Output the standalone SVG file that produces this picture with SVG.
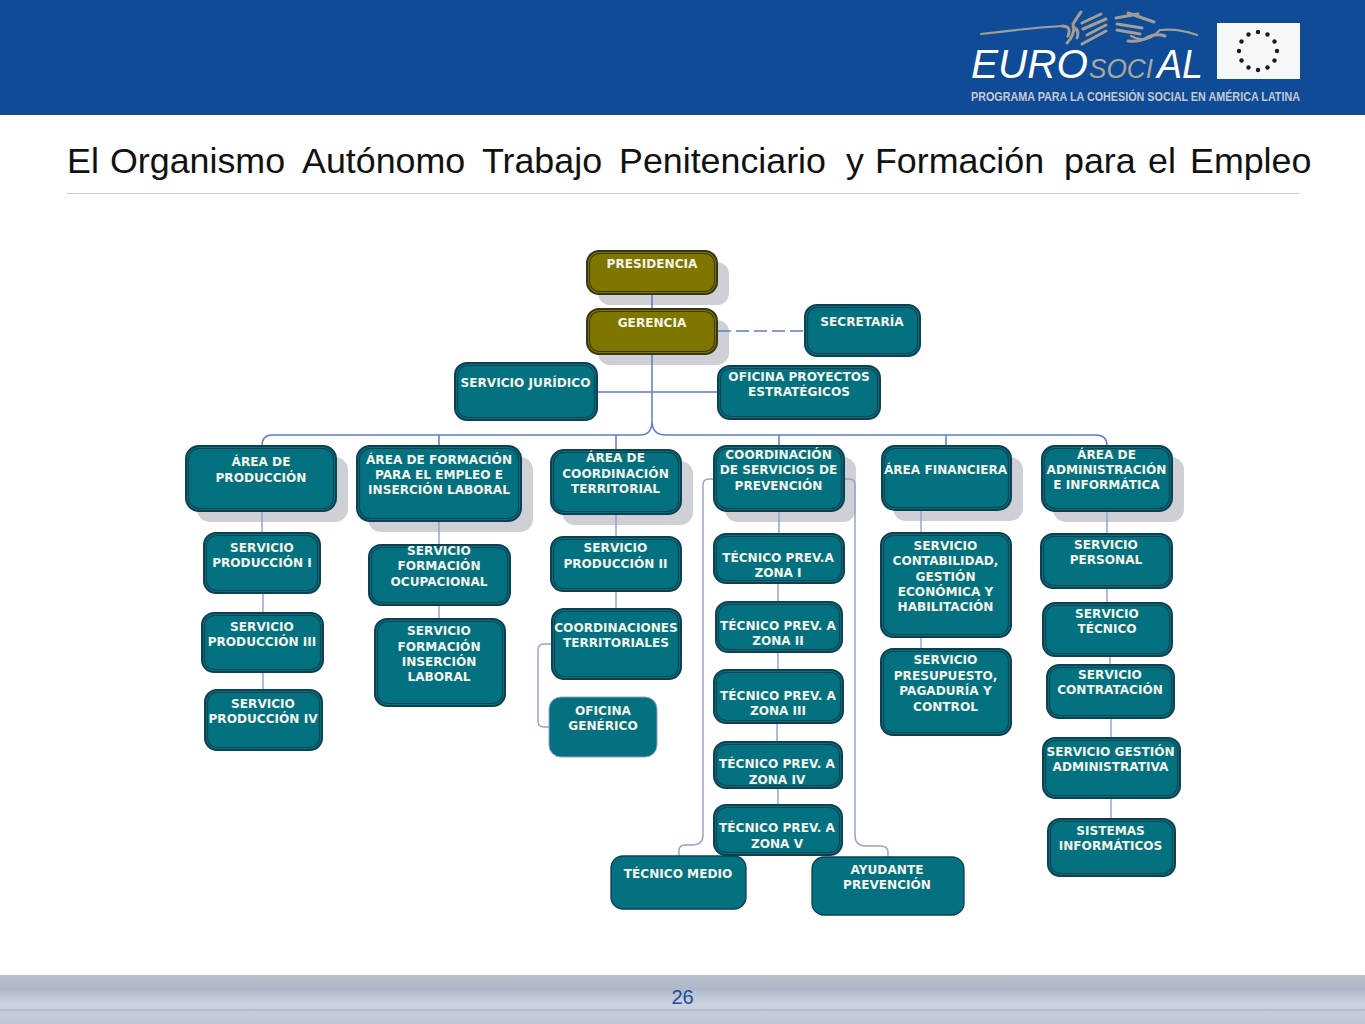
<svg xmlns="http://www.w3.org/2000/svg" width="1365" height="1024" viewBox="0 0 1365 1024">
<defs>
<linearGradient id="bar" x1="0" y1="0" x2="0" y2="1">
<stop offset="0" stop-color="#b9c2cd"/><stop offset="0.12" stop-color="#b3bccb"/><stop offset="0.3" stop-color="#aeb7c7"/><stop offset="0.45" stop-color="#c0c8d6"/><stop offset="0.62" stop-color="#cdd3df"/><stop offset="0.69" stop-color="#c8cedb"/><stop offset="0.7" stop-color="#b4bbc9"/><stop offset="0.73" stop-color="#b9c0cd"/><stop offset="0.75" stop-color="#c6ccd9"/><stop offset="1" stop-color="#bfc5d4"/>
</linearGradient>
</defs>
<style>
.n{font-family:"DejaVu Sans",Verdana,sans-serif;font-weight:700;font-size:12.1px;fill:#f4f4ea;text-anchor:middle}
.b{fill:#03717f;stroke:#0d4050;stroke-width:2}
.i{fill:none;stroke:#0d4050;stroke-width:1.1}
.o{fill:#7f7600;stroke:#38350f;stroke-width:2}
.oi{fill:none;stroke:#38350f;stroke-width:1.1}
.s{fill:#cfcfd6}
.c{fill:none;stroke:#5f7cc4;stroke-width:1.5}
.l{fill:none;stroke:#8fa0cf;stroke-width:1.4}
.g{fill:none;stroke:#a09e96;stroke-width:3;stroke-linecap:round}
</style>
<rect width="1365" height="1024" fill="#fff"/>
<rect width="1365" height="115" fill="#0f4b96"/>
<g id="logo">
<path class="g" style="stroke-width:2.2" d="M981 34Q1030 28 1062 26M1131 36Q1146 45 1160 30Q1178 28 1197 35"/>
<path class="g" d="M1062 26Q1072 26 1068 36M1067 43Q1076 34 1073 24Q1078 16 1081 12M1073 27Q1080 30 1077 38M1082 23L1101 14M1083 29L1106 19M1087 35L1106 25M1082 44L1106 31M1116 18L1138 14M1128 13L1154 22M1117 24L1142 28M1117 30L1140 34M1128 41Q1141 42 1148 37Q1156 33 1165 36"/>
<text x="971" y="78" font-family="Liberation Sans,sans-serif" font-style="italic" font-size="41" fill="#fff" textLength="117" lengthAdjust="spacingAndGlyphs">EURO</text>
<text x="1089" y="78" font-family="Liberation Sans,sans-serif" font-style="italic" font-size="27" fill="#aaa79c" textLength="64" lengthAdjust="spacingAndGlyphs">SOCI</text>
<text x="1157" y="78" font-family="Liberation Sans,sans-serif" font-style="italic" font-size="41" fill="#fff" textLength="46" lengthAdjust="spacingAndGlyphs">AL</text>
<text x="971" y="101" font-family="Liberation Sans,sans-serif" font-weight="700" font-size="12.5" fill="#c4c9d4" textLength="329" lengthAdjust="spacingAndGlyphs">PROGRAMA PARA LA COHESIÓN SOCIAL EN AMÉRICA LATINA</text>
<rect x="1217" y="23" width="83" height="56" fill="#f6f7f8"/>
<g fill="#1b1b1b"><circle cx="1258" cy="32" r="2.2"/><circle cx="1267.500" cy="34.500" r="2.2"/><circle cx="1274.500" cy="41.500" r="2.2"/><circle cx="1277" cy="51" r="2.2"/><circle cx="1274.500" cy="60.500" r="2.2"/><circle cx="1267.500" cy="67.500" r="2.2"/><circle cx="1258" cy="70" r="2.2"/><circle cx="1248.500" cy="67.500" r="2.2"/><circle cx="1241.500" cy="60.500" r="2.2"/><circle cx="1239" cy="51" r="2.2"/><circle cx="1241.500" cy="41.500" r="2.2"/><circle cx="1248.500" cy="34.500" r="2.2"/></g>
</g>
<text id="title" y="173" font-family="Liberation Sans,Arial,sans-serif" font-size="35.8" fill="#111"><tspan x="67">El </tspan><tspan x="110">Organismo </tspan><tspan x="302">Autónomo </tspan><tspan x="482">Trabajo </tspan><tspan x="619">Penitenciario </tspan><tspan x="846">y </tspan><tspan x="875">Formación </tspan><tspan x="1064">para </tspan><tspan x="1148">el </tspan><tspan x="1190">Empleo</tspan></text>
<rect x="67" y="193" width="1232" height="1" fill="#c9c9c9"/>
<g id="shadows" class="s">
<rect x="598" y="262" width="131" height="43" rx="12"/><rect x="598" y="320" width="131" height="45" rx="12"/>
<rect x="197" y="457" width="151" height="65" rx="13"/><rect x="368" y="457" width="165" height="75" rx="13"/><rect x="562" y="461" width="131" height="64" rx="13"/><rect x="725" y="457" width="131" height="65" rx="13"/><rect x="893" y="457" width="130" height="64" rx="13"/><rect x="1053" y="457" width="131" height="65" rx="13"/>
</g>
<g id="connectors">
<path class="c" d="M652 294V309M652 354V421Q652 435 640 435H272Q262 435 262 446M652 421Q652 435 666 435H1096Q1107 435 1107 446M439 435V446M616 435V450M779 435V446M946 435V446M597 392H718"/>
<path class="c" stroke-dasharray="13 5" d="M718 331H805"/>
<path class="l" d="M262 511V533M263 593V613M263 672V690M439 521V545M439 605V619M616 514V537M616 591V609M552 644H544Q538 644 538 650V721Q538 727 544 727H549M779 511V534M778 583V602M778 652V670M777 723V742M778 788V805M714 479H709Q703 479 703 485V835Q703 845 692 845H685Q679 845 679 851V856M844 479H849Q855 479 855 485V835Q855 846 866 846H880Q888 846 888 852V857M921 510V533M921 637V649M1107 511V534M1107 588V603M1110 656V665M1111 718V738M1111 798V819"/>
</g>
<g id="n1"><rect class="o" x="587" y="251" width="130" height="43" rx="12"/><rect class="oi" x="589.500" y="253.500" width="125" height="38" rx="10"/><text class="n" x="652" y="268">PRESIDENCIA</text></g>
<g id="n2"><rect class="o" x="587" y="309" width="130" height="45" rx="12"/><rect class="oi" x="589.500" y="311.500" width="125" height="40" rx="10"/><text class="n" x="652" y="327">GERENCIA</text></g>
<g id="n3"><rect class="b" x="805" y="305" width="115" height="51" rx="12"/><rect class="i" x="807.500" y="307.500" width="110" height="46" rx="10"/><text class="n" x="862" y="326">SECRETARÍA</text></g>
<g id="n4"><rect class="b" x="455" y="363" width="142" height="57" rx="12"/><rect class="i" x="457.500" y="365.500" width="137" height="52" rx="10"/><text class="n" x="525.500" y="387">SERVICIO JURÍDICO</text></g>
<g id="n5"><rect class="b" x="718" y="366" width="162" height="53" rx="12"/><rect class="i" x="720.500" y="368.500" width="157" height="48" rx="10"/><text class="n" x="799" y="381">OFICINA PROYECTOS</text><text class="n" x="799" y="396">ESTRATÉGICOS</text></g>
<g id="n6"><rect class="b" x="186" y="446" width="150" height="65" rx="13"/><rect class="i" x="188.500" y="448.500" width="145" height="60" rx="11"/><text class="n" x="261" y="466">ÁREA DE</text><text class="n" x="261" y="482">PRODUCCIÓN</text></g>
<g id="n7"><rect class="b" x="357" y="446" width="164" height="75" rx="13"/><rect class="i" x="359.500" y="448.500" width="159" height="70" rx="11"/><text class="n" x="439" y="464">ÁREA DE FORMACIÓN</text><text class="n" x="439" y="479">PARA EL EMPLEO E</text><text class="n" x="439" y="494">INSERCIÓN LABORAL</text></g>
<g id="n8"><rect class="b" x="551" y="450" width="130" height="64" rx="13"/><rect class="i" x="553.500" y="452.500" width="125" height="59" rx="11"/><text class="n" x="615.500" y="462">ÁREA DE</text><text class="n" x="615.500" y="478">COORDINACIÓN</text><text class="n" x="615.500" y="493">TERRITORIAL</text></g>
<g id="n9"><rect class="b" x="714" y="446" width="130" height="65" rx="13"/><rect class="i" x="716.500" y="448.500" width="125" height="60" rx="11"/><text class="n" x="778.500" y="459">COORDINACIÓN</text><text class="n" x="778.500" y="474">DE SERVICIOS DE</text><text class="n" x="778.500" y="490">PREVENCIÓN</text></g>
<g id="n10"><rect class="b" x="882" y="446" width="129" height="64" rx="13"/><rect class="i" x="884.500" y="448.500" width="124" height="59" rx="11"/><text class="n" x="945.500" y="474">ÁREA FINANCIERA</text></g>
<g id="n11"><rect class="b" x="1042" y="446" width="130" height="65" rx="13"/><rect class="i" x="1044.500" y="448.500" width="125" height="60" rx="11"/><text class="n" x="1106.500" y="459">ÁREA DE</text><text class="n" x="1106.500" y="474">ADMINISTRACIÓN</text><text class="n" x="1106.500" y="489">E INFORMÁTICA</text></g>
<g id="n12"><rect class="b" x="204" y="533" width="116" height="60" rx="12"/><rect class="i" x="206.500" y="535.500" width="111" height="55" rx="10"/><text class="n" x="262" y="552">SERVICIO</text><text class="n" x="262" y="567">PRODUCCIÓN I</text></g>
<g id="n13"><rect class="b" x="202" y="613" width="121" height="59" rx="12"/><rect class="i" x="204.500" y="615.500" width="116" height="54" rx="10"/><text class="n" x="262" y="631">SERVICIO</text><text class="n" x="262" y="646">PRODUCCIÓN III</text></g>
<g id="n14"><rect class="b" x="205" y="690" width="117" height="60" rx="12"/><rect class="i" x="207.500" y="692.500" width="112" height="55" rx="10"/><text class="n" x="263" y="708">SERVICIO</text><text class="n" x="263" y="723">PRODUCCIÓN IV</text></g>
<g id="n15"><rect class="b" x="369" y="545" width="141" height="60" rx="12"/><rect class="i" x="371.500" y="547.500" width="136" height="55" rx="10"/><text class="n" x="439" y="555">SERVICIO</text><text class="n" x="439" y="570">FORMACIÓN</text><text class="n" x="439" y="586">OCUPACIONAL</text></g>
<g id="n16"><rect class="b" x="375" y="619" width="130" height="87" rx="12"/><rect class="i" x="377.500" y="621.500" width="125" height="82" rx="10"/><text class="n" x="439" y="635">SERVICIO</text><text class="n" x="439" y="651">FORMACIÓN</text><text class="n" x="439" y="666">INSERCIÓN</text><text class="n" x="439" y="681">LABORAL</text></g>
<g id="n17"><rect class="b" x="551" y="537" width="130" height="54" rx="12"/><rect class="i" x="553.500" y="539.500" width="125" height="49" rx="10"/><text class="n" x="615.500" y="552">SERVICIO</text><text class="n" x="615.500" y="568">PRODUCCIÓN II</text></g>
<g id="n18"><rect class="b" x="552" y="609" width="129" height="70" rx="12"/><rect class="i" x="554.500" y="611.500" width="124" height="65" rx="10"/><text class="n" x="616" y="632">COORDINACIONES</text><text class="n" x="616" y="647">TERRITORIALES</text></g>
<g id="n19"><rect x="549" y="697" width="108" height="60" rx="12" fill="#03717f" stroke="#8fa0cf"/><text class="n" x="603" y="715">OFICINA</text><text class="n" x="603" y="730">GENÉRICO</text></g>
<g id="n20"><rect class="b" x="714" y="534" width="130" height="49" rx="12"/><rect class="i" x="716.500" y="536.500" width="125" height="44" rx="10"/><text class="n" x="778" y="562">TÉCNICO PREV.A</text><text class="n" x="778" y="577">ZONA I</text></g>
<g id="n21"><rect class="b" x="716" y="602" width="126" height="50" rx="12"/><rect class="i" x="718.500" y="604.500" width="121" height="45" rx="10"/><text class="n" x="778" y="630">TÉCNICO PREV. A</text><text class="n" x="778" y="645">ZONA II</text></g>
<g id="n22"><rect class="b" x="714" y="670" width="129" height="53" rx="12"/><rect class="i" x="716.500" y="672.500" width="124" height="48" rx="10"/><text class="n" x="778" y="700">TÉCNICO PREV. A</text><text class="n" x="778" y="715">ZONA III</text></g>
<g id="n23"><rect class="b" x="714" y="742" width="128" height="46" rx="12"/><rect class="i" x="716.500" y="744.500" width="123" height="41" rx="10"/><text class="n" x="777" y="768">TÉCNICO PREV. A</text><text class="n" x="777" y="784">ZONA IV</text></g>
<g id="n24"><rect class="b" x="714" y="805" width="128" height="50" rx="12"/><rect class="i" x="716.500" y="807.500" width="123" height="45" rx="10"/><text class="n" x="777" y="832">TÉCNICO PREV. A</text><text class="n" x="777" y="848">ZONA V</text></g>
<g id="n25"><rect x="611" y="856" width="135" height="53" rx="12" fill="#03717f" stroke="#0d4050" stroke-width="1.300"/><text class="n" x="678" y="878">TÉCNICO MEDIO</text></g>
<g id="n26"><rect x="812" y="857" width="152" height="58" rx="12" fill="#03717f" stroke="#0d4050" stroke-width="1.300"/><text class="n" x="887" y="874">AYUDANTE</text><text class="n" x="887" y="889">PREVENCIÓN</text></g>
<g id="n27"><rect class="b" x="881" y="533" width="130" height="104" rx="12"/><rect class="i" x="883.500" y="535.500" width="125" height="99" rx="10"/><text class="n" x="945.500" y="550">SERVICIO</text><text class="n" x="945.500" y="565">CONTABILIDAD,</text><text class="n" x="945.500" y="581">GESTIÓN</text><text class="n" x="945.500" y="596">ECONÓMICA Y</text><text class="n" x="945.500" y="611">HABILITACIÓN</text></g>
<g id="n28"><rect class="b" x="881" y="649" width="130" height="86" rx="12"/><rect class="i" x="883.500" y="651.500" width="125" height="81" rx="10"/><text class="n" x="945.500" y="664">SERVICIO</text><text class="n" x="945.500" y="680">PRESUPUESTO,</text><text class="n" x="945.500" y="695">PAGADURÍA Y</text><text class="n" x="945.500" y="711">CONTROL</text></g>
<g id="n29"><rect class="b" x="1041" y="534" width="131" height="54" rx="12"/><rect class="i" x="1043.500" y="536.500" width="126" height="49" rx="10"/><text class="n" x="1106" y="549">SERVICIO</text><text class="n" x="1106" y="564">PERSONAL</text></g>
<g id="n30"><rect class="b" x="1043" y="603" width="129" height="53" rx="12"/><rect class="i" x="1045.500" y="605.500" width="124" height="48" rx="10"/><text class="n" x="1107" y="618">SERVICIO</text><text class="n" x="1107" y="633">TÉCNICO</text></g>
<g id="n31"><rect class="b" x="1047" y="665" width="127" height="53" rx="12"/><rect class="i" x="1049.500" y="667.500" width="122" height="48" rx="10"/><text class="n" x="1110" y="679">SERVICIO</text><text class="n" x="1110" y="694">CONTRATACIÓN</text></g>
<g id="n32"><rect class="b" x="1043" y="738" width="137" height="60" rx="12"/><rect class="i" x="1045.500" y="740.500" width="132" height="55" rx="10"/><text class="n" x="1110.500" y="756">SERVICIO GESTIÓN</text><text class="n" x="1110.500" y="771">ADMINISTRATIVA</text></g>
<g id="n33"><rect class="b" x="1048" y="819" width="127" height="57" rx="12"/><rect class="i" x="1050.500" y="821.500" width="122" height="52" rx="10"/><text class="n" x="1110.500" y="835">SISTEMAS</text><text class="n" x="1110.500" y="850">INFORMÁTICOS</text></g>
<rect id="footer" y="975" width="1365" height="49" fill="url(#bar)"/>
<text x="682.500" y="1004" font-family="Liberation Sans,Arial,sans-serif" font-size="20" fill="#164fa0" text-anchor="middle">26</text>
</svg>
